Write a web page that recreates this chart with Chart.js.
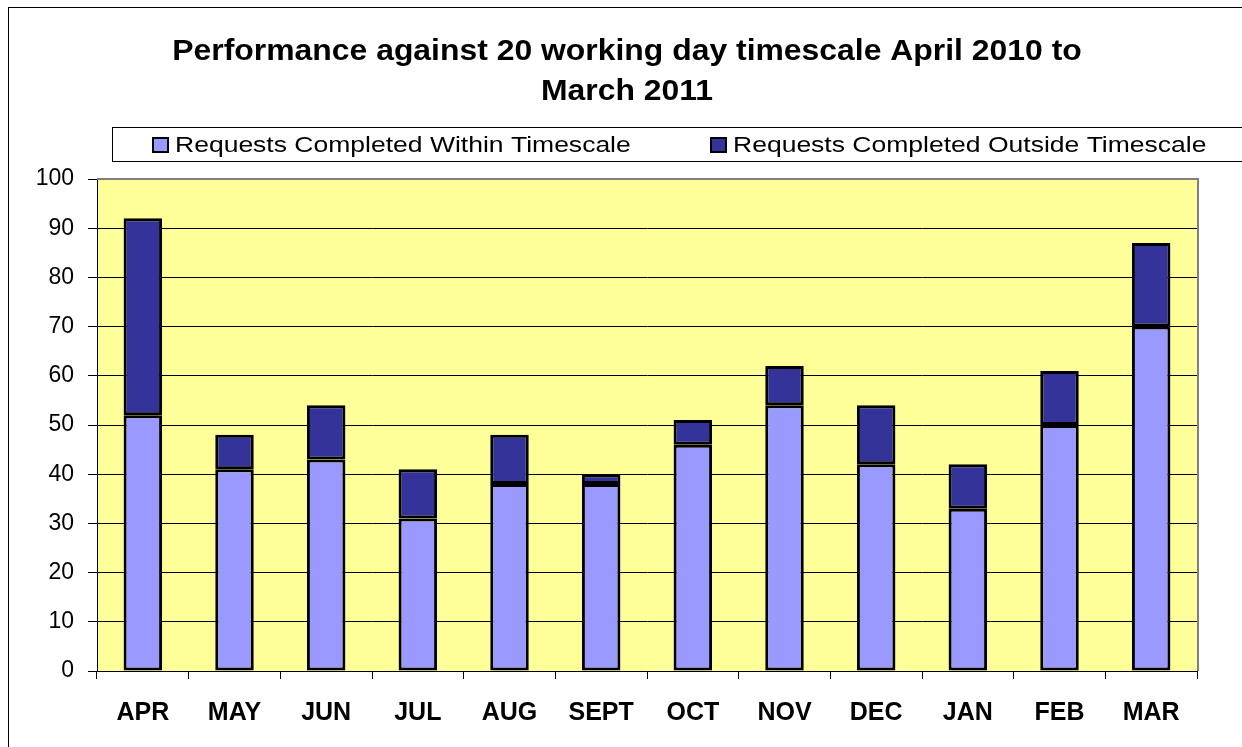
<!DOCTYPE html>
<html>
<head>
<meta charset="utf-8">
<script src="https://cdn.jsdelivr.net/npm/chart.js@4/dist/chart.umd.min.js"></script>
<style>
  html, body { margin: 0; padding: 0; background: #ffffff; }
  #wrap { width: 1242px; height: 747px; position: relative; }
</style>
</head>
<body>
<div id="wrap"><canvas id="c" width="1242" height="747"></canvas></div>
<script>
const titleLines = ['Performance against 20 working day timescale April 2010 to', 'March 2011'];
const categories = ['APR', 'MAY', 'JUN', 'JUL', 'AUG', 'SEPT', 'OCT', 'NOV', 'DEC', 'JAN', 'FEB', 'MAR'];
const withinLabel = 'Requests Completed Within Timescale';
const outsideLabel = 'Requests Completed Outside Timescale';
const withinValues = [52, 41, 43, 31, 38, 38, 46, 54, 42, 33, 50, 70];
const outsideValues = [40, 7, 11, 10, 10, 2, 5, 8, 12, 9, 11, 17];
const yMin = 0, yMax = 100, yStep = 10;

const FONT = '"Liberation Sans", Arial, sans-serif';

function stretchedText(ctx, text, x, y, sx) {
  ctx.save();
  ctx.translate(x, y);
  ctx.scale(sx, 1);
  ctx.fillText(text, 0, 0);
  ctx.restore();
}

const decor = {
  id: 'decor',
  beforeDraw(chart) {
    const ctx = chart.ctx, a = chart.chartArea;
    ctx.save();
    ctx.fillStyle = '#ffffff';
    ctx.fillRect(0, 0, chart.width, chart.height);
    ctx.strokeStyle = '#000000';
    ctx.lineWidth = 1;
    ctx.strokeRect(8.5, 7.5, chart.width + 20, chart.height + 20);
    ctx.fillStyle = '#FFFF99';
    ctx.fillRect(a.left, a.top, a.right - a.left, a.bottom - a.top);
    ctx.restore();
  },
  afterDatasetsDraw(chart) {
    const ctx = chart.ctx, a = chart.chartArea;
    ctx.save();
    // plot-area border top & right (grey)
    ctx.strokeStyle = '#808080';
    ctx.lineWidth = 2;
    ctx.beginPath();
    ctx.moveTo(a.left, a.top);
    ctx.lineTo(a.right + 1, a.top);
    ctx.lineTo(a.right + 1, a.bottom);
    ctx.stroke();
    // legend box
    ctx.strokeStyle = '#000000';
    ctx.lineWidth = 1;
    ctx.strokeRect(112.5, 127.5, chart.width, 34);
    ctx.font = '22px ' + FONT;
    ctx.textBaseline = 'middle';
    ctx.textAlign = 'left';
    const items = [[152, chart.data.datasets[0]], [710, chart.data.datasets[1]]];
    for (const [x, ds] of items) {
      ctx.fillStyle = ds.backgroundColor;
      ctx.fillRect(x, 137, 17, 16);
      ctx.strokeStyle = '#000000';
      ctx.lineWidth = 2;
      ctx.strokeRect(x + 1, 138, 15, 14);
      ctx.fillStyle = '#000000';
      stretchedText(ctx, ds.label, x + 23, 146, 1.205);
    }
    // title
    ctx.font = 'bold 29px ' + FONT;
    ctx.textAlign = 'center';
    stretchedText(ctx, titleLines[0], 627, 52, 1.10);
    stretchedText(ctx, titleLines[1], 627, 92, 1.10);
    ctx.restore();
  }
};

new Chart(document.getElementById('c'), {
  type: 'bar',
  data: {
    labels: categories,
    datasets: [
      { label: withinLabel, data: withinValues, backgroundColor: '#9999FF', borderColor: '#000000', borderWidth: 3, borderSkipped: false, barPercentage: 0.42, categoryPercentage: 1 },
      { label: outsideLabel, data: outsideValues, backgroundColor: '#333399', borderColor: '#000000', borderWidth: 3, borderSkipped: false, barPercentage: 0.42, categoryPercentage: 1 }
    ]
  },
  options: {
    responsive: false,
    animation: false,
    layout: { padding: { top: 179, right: 45, left: 0, bottom: 0 } },
    plugins: { legend: { display: false }, title: { display: false }, tooltip: { enabled: false } },
    scales: {
      x: {
        stacked: true,
        grid: { offset: true, drawOnChartArea: false, color: '#000000', tickLength: 8, lineWidth: 1 },
        border: { color: '#000000', width: 1 },
        ticks: { color: '#000000', font: { family: FONT, size: 25, weight: 'bold' }, padding: 19, maxRotation: 0, autoSkip: false },
        afterFit(s) { s.height = 76; }
      },
      y: {
        stacked: true,
        min: yMin, max: yMax,
        grid: { color: '#000000', tickLength: 9, lineWidth: 1 },
        border: { color: '#000000', width: 1 },
        ticks: { stepSize: yStep, color: '#000000', font: { family: FONT, size: 23 }, padding: 14 },
        afterFit(s) { s.width = 97; }
      }
    }
  },
  plugins: [decor]
});
</script>
</body>
</html>
